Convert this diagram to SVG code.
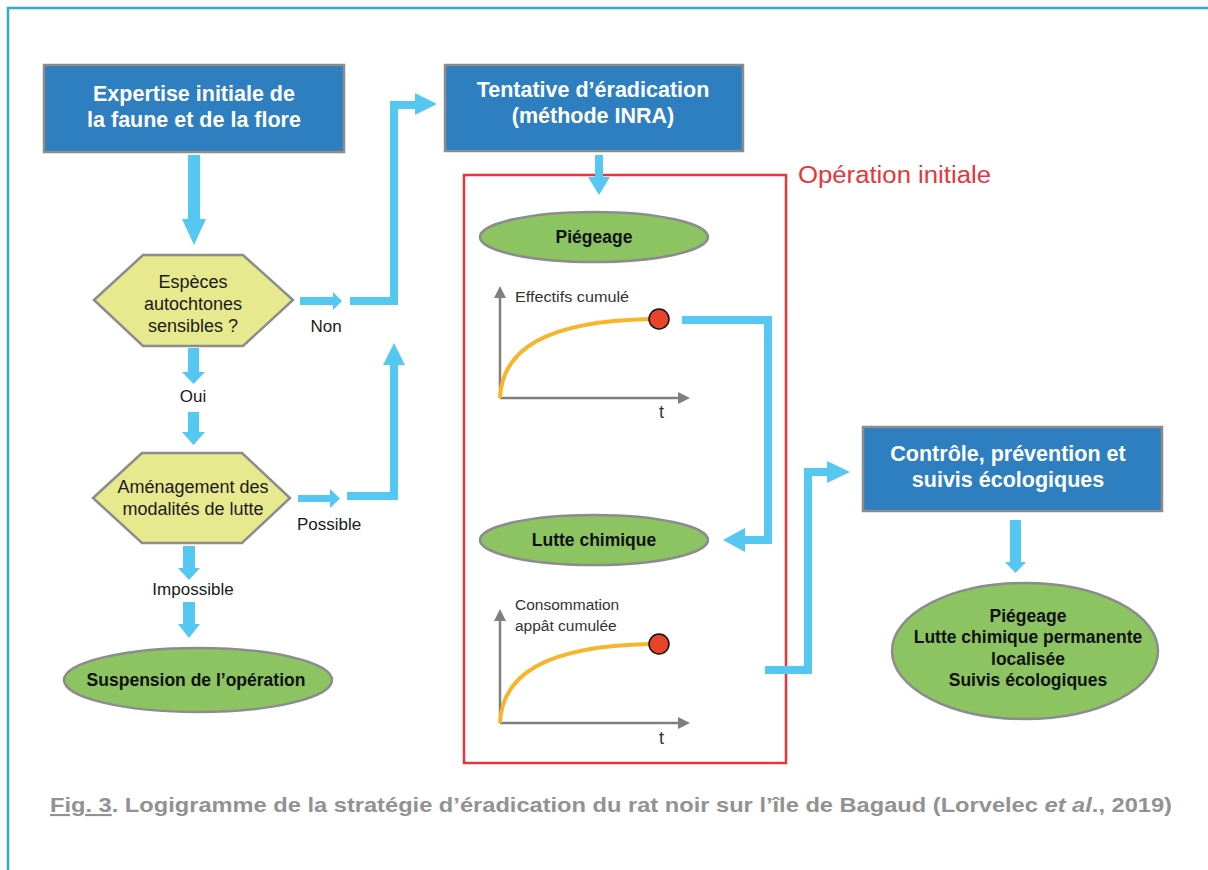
<svg xmlns="http://www.w3.org/2000/svg" width="1208" height="870" viewBox="0 0 1208 870">
<defs>
<style>
.box{fill:#2e7fc0;stroke:#8c8c8c;stroke-width:2.5}
.hex{fill:#e7e98e;stroke:#8c8c8c;stroke-width:2.5}
.ell{fill:#8cc462;stroke:#8c8c8c;stroke-width:2.5}
.bt{font-family:"Liberation Sans",Arial,sans-serif;font-weight:bold;font-size:21.5px;fill:#ffffff;text-anchor:middle}
.ht{font-family:"Liberation Sans",Arial,sans-serif;font-size:18px;fill:#1a1a1a;text-anchor:middle}
.et{font-family:"Liberation Sans",Arial,sans-serif;font-weight:bold;font-size:17.5px;fill:#111111;text-anchor:middle}
.lt{font-family:"Liberation Sans",Arial,sans-serif;font-size:17px;fill:#1a1a1a}
.gt{font-family:"Liberation Sans",Arial,sans-serif;font-size:15.5px;fill:#333333}
.tt{font-family:"Liberation Sans",Arial,sans-serif;font-size:18px;fill:#333333}
.arr{fill:#55c8f2}
.con{fill:none;stroke:#55c8f2;stroke-width:8}
.ax{stroke:#7f7f7f;stroke-width:2.5;fill:none}
.axh{fill:#7f7f7f}
.crv{fill:none;stroke:#f7b52b;stroke-width:4}
.dot{fill:#e8442a;stroke:#111;stroke-width:1.5}
</style>
</defs>
<rect x="0" y="0" width="1208" height="870" fill="#ffffff"/>
<path d="M8,870 V8 H1208" fill="none" stroke="#2fabcd" stroke-width="2.5"/>

<g id="n-expertise">
<rect class="box" x="44" y="65" width="300" height="87"/>
<text class="bt" x="194" y="101">Expertise initiale de</text>
<text class="bt" x="194" y="127">la faune et de la flore</text>
</g>

<g id="n-especes">
<polygon class="hex" points="94,300 143,255 243,255 293,300 243,346 143,346"/>
<text class="ht" x="193" y="288">Espèces</text>
<text class="ht" x="193" y="310">autochtones</text>
<text class="ht" x="193" y="332">sensibles ?</text>
</g>

<g id="n-amenagement">
<polygon class="hex" points="93,498 142,453 242,453 290,498 242,543 142,543"/>
<text class="ht" x="193" y="493">Aménagement des</text>
<text class="ht" x="193" y="515">modalités de lutte</text>
</g>

<g id="n-suspension">
<ellipse class="ell" cx="198" cy="680" rx="134" ry="32"/>
<text class="et" x="196" y="686">Suspension de l’opération</text>
</g>

<g id="n-tentative">
<rect class="box" x="445" y="65" width="298" height="86"/>
<text class="bt" x="593" y="97">Tentative d’éradication</text>
<text class="bt" x="593" y="123">(méthode  INRA)</text>
</g>

<g id="n-operation">
<rect x="464" y="175" width="322" height="588" fill="none" stroke="#e8353a" stroke-width="2.5"/>
<text x="798" y="183" font-family="'Liberation Sans',Arial,sans-serif" font-size="23" fill="#e8353a" textLength="193" lengthAdjust="spacingAndGlyphs">Opération initiale</text>
</g>

<g id="n-piegeage">
<ellipse class="ell" cx="594" cy="237" rx="114" ry="25"/>
<text class="et" x="594" y="243">Piégeage</text>
</g>

<g id="n-graph1">
<path class="ax" d="M500,398 V296 M500,398 H680"/>
<polygon class="axh" points="494,298 500,286 506,298"/>
<polygon class="axh" points="678,392 690,398 678,404"/>
<text class="gt" x="515" y="302" textLength="114" lengthAdjust="spacingAndGlyphs">Effectifs cumulé</text>
<text class="tt" x="659" y="418">t</text>
<path class="crv" d="M500,398 C502,350 545,321 650,319"/>
<circle class="dot" cx="659" cy="319" r="10"/>
</g>

<g id="n-lutte">
<ellipse class="ell" cx="594" cy="540" rx="114" ry="25"/>
<text class="et" x="594" y="546">Lutte chimique</text>
</g>

<g id="n-graph2">
<path class="ax" d="M500,723 V619 M500,723 H680"/>
<polygon class="axh" points="494,621 500,609 506,621"/>
<polygon class="axh" points="678,717 690,723 678,729"/>
<text class="gt" x="515" y="610">Consommation</text>
<text class="gt" x="515" y="631">appât cumulée</text>
<text class="tt" x="659" y="744">t</text>
<path class="crv" d="M500,723 C502,675 545,646 650,644"/>
<circle class="dot" cx="659" cy="644" r="10"/>
</g>

<g id="n-controle">
<rect class="box" x="863" y="427" width="299" height="84"/>
<text class="bt" x="1008" y="461">Contrôle, prévention et</text>
<text class="bt" x="1008" y="487">suivis écologiques</text>
</g>

<g id="n-final">
<ellipse class="ell" cx="1025" cy="651" rx="133" ry="68"/>
<text class="et" x="1028" y="622">Piégeage</text>
<text class="et" x="1028" y="643">Lutte chimique permanente</text>
<text class="et" x="1028" y="665">localisée</text>
<text class="et" x="1028" y="686">Suivis écologiques</text>
</g>

<g id="connectors">
<polygon class="arr" points="188,155 200,155 200,219 206,219 194,245 182,219 188,219"/>
<polygon class="arr" points="188,348 199,348 199,372 205,372 193.5,384 182,372 188,372"/>
<polygon class="arr" points="188,412 199,412 199,432 205,432 193.5,445 182,432 188,432"/>
<polygon class="arr" points="183,546 195,546 195,568 200,568 189,580 178,568 183,568"/>
<polygon class="arr" points="183,602 195,602 195,624 200,624 189,638 178,624 183,624"/>
<polygon class="arr" points="300,297 333,297 333,292 342,301 333,310 333,305 300,305"/>
<polygon class="arr" points="298,495 330,495 330,489 340,498.5 330,508 330,502 298,502"/>
<path class="con" d="M350,301 H394 V105 H416"/>
<polygon class="arr" points="415,93 437,104 415,115"/>
<path class="con" d="M347,496 H394 V364"/>
<polygon class="arr" points="383,365 394,343 405,365"/>
<polygon class="arr" points="595,155 603,155 603,177 610,177 599,195 588,177 595,177"/>
<path class="con" d="M682,320 H768 V540 H744"/>
<polygon class="arr" points="745,528 723,540 745,552"/>
<path class="con" d="M765,670 H808 V472 H828"/>
<polygon class="arr" points="827,461 850,472 827,483"/>
<polygon class="arr" points="1010,520 1021,520 1021,562 1026,562 1015.5,573 1005,562 1010,562"/>
<text class="lt" x="326" y="332" text-anchor="middle">Non</text>
<text class="lt" x="193" y="402" text-anchor="middle">Oui</text>
<text class="lt" x="297" y="530">Possible</text>
<text class="lt" x="193" y="595" text-anchor="middle">Impossible</text>
</g>

<g id="caption">
<text x="50" y="812" font-family="'Liberation Sans',Arial,sans-serif" font-weight="bold" font-size="21" fill="#929292" textLength="1122" lengthAdjust="spacingAndGlyphs"><tspan text-decoration="underline">Fig. 3</tspan>. Logigramme de la stratégie d’éradication du rat noir sur l’île de Bagaud (Lorvelec <tspan font-style="italic">et al</tspan>., 2019)</text>
</g>
</svg>
